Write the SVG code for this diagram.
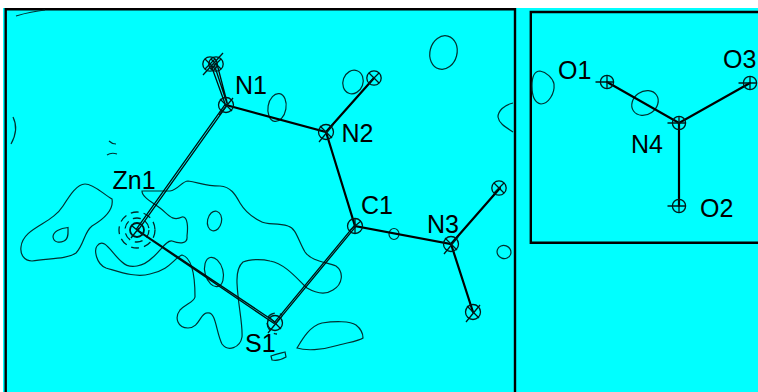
<svg xmlns="http://www.w3.org/2000/svg" width="758" height="392" viewBox="0 0 758 392">
<style>
text{font-family:"Liberation Sans",Arial,sans-serif;font-size:25px;fill:#000}
.frame{fill:none;stroke:#000;stroke-width:2.4}
.c{fill:none;stroke:#003030;stroke-width:1.2}
.b{fill:none;stroke:#000;stroke-width:2.200;stroke-linecap:round}
.d{fill:none;stroke:#001010;stroke-width:1.300}
.a{fill:none;stroke:#001a1a;stroke-width:1.300}
.da{fill:none;stroke:#002a2a;stroke-width:1.300;stroke-dasharray:8 5}
</style>
<defs>
<g id="tatom"><circle r="7.500" class="a"/><path d="M-7 10L7-7M-6-6L6 6" class="a"/></g>
<g id="xatom"><circle r="7.200" class="a"/><path d="M-5-5L5 5M-5 5L5-5" class="a"/></g>
<g id="catom"><circle r="7.500" class="a"/><path d="M0-7.500V7.500M-6 5L6-5" class="a"/></g>
<g id="patom"><circle r="6.600" class="a"/><path d="M-11.500 0H6.600M0-6.600V6.600" class="a"/></g>
</defs>
<rect x="3" y="8" width="755" height="384" fill="#00ffff"/>
<g id="frames">
<path class="frame" d="M5.700 392V9.200H515V392"/>
<path class="frame" d="M758 12H530.800V242.800H758"/>
</g>
<g id="contours">
<path class="c" d="M85 184C94 184 103 194 112 199C114 210 104 219 92 226C84 232 84 245 76 253C66 260 46 258 32 261C24 261 20 254 21 247C22 236 32 230 42 224C50 219 58 214 63 206C70 195 77 184 85 184Z"/>
<path class="c" d="M68 227.500C60 228 53 232 53 237C54 243 60 243 64 241C69 239 68 232 68 227.500Z"/>
<path class="c" d="M142 191H170C178 190 182 181 188 181C198 182 204 186 220 186C232 187 236 196 240 203C246 213 254 218 260 221C268 226 276 222 288 226C296 228 298 240 305 252C312 262 328 262 336 266C344 272 343 284 333 290C324 296 314 292 307 288C298 280 286 264 270 261C262 259 250 259 243 262C236 268 237 278 237 283C238 305 243 325 242 337C240 348 228 352 222 344C216 332 216 312 208 313C200 312 200 328 188 328C178 328 174 318 180 310C186 304 194 302 195 297C195 285 194 258 182 255C174 258 170 270 150 274C136 278 120 272 106 268C96 264 94 250 97 246C104 236 112 254 122 262C130 270 144 266 152 258C160 252 166 240 172 241C180 244 188 244 187 236C188 228 188 216 182 217C172 222 168 214 160 208C152 202 142 197 142 191Z"/>
<ellipse class="c" cx="214.500" cy="221" rx="7" ry="10" transform="rotate(12 214.500 221)"/>
<ellipse class="c" cx="214" cy="272" rx="9" ry="15" transform="rotate(-15 214 272)"/>
<ellipse class="c" cx="277" cy="107.500" rx="9" ry="14" transform="rotate(10 277 107.500)"/>
<ellipse class="c" cx="353" cy="82" rx="10" ry="12" transform="rotate(20 353 82)"/>
<ellipse class="c" cx="443.500" cy="52.500" rx="13.500" ry="17" transform="rotate(15 443.500 52.500)"/>
<path class="c" d="M513 103C504 105 498 111 498 117C499 124 507 128 513 132"/>
<ellipse class="c" cx="394" cy="234" rx="5" ry="5.500"/>
<ellipse class="c" cx="504" cy="252" rx="7" ry="6.500" transform="rotate(20 504 252)"/>
<path class="c" d="M297 348C303 338 310 326 322 323C335 321 350 321 356 325C361 329 363 333 363 338C360 341 345 343 335 346C322 350 306 351 297 348Z"/>
<path class="c" d="M271 356C276 354 281 353 285 352L286 357C281 360 276 361 272 360Z"/>
<path class="c" d="M532 86C532 76 535 71 540 71C546 72 553 78 554 84C555 94 548 104 541 104C535 103 532 96 532 86Z"/>
<ellipse class="c" cx="645" cy="103" rx="14" ry="11.500" transform="rotate(-35 645 103)"/>
<path class="c" d="M16 16C26 13 35 11 45 10"/>
<path class="c" d="M13 117C17 125 16 135 11 144"/>
<path class="c" d="M109 141C111 143 113 144 116 144"/>
<path class="c" d="M107 155C110 153 114 153 117 154"/>
<circle class="da" cx="137" cy="230" r="12"/>
<circle class="da" cx="137" cy="230" r="18"/>
<path class="da" d="M267 323A10 12 0 0 0 277 334M268 317A10 10 0 0 1 282 315"/>
</g>
<g id="connectors">
<path class="b" d="M226 105L326 132L374 78M326 132L355 226L451 244L500 188M451 244L473 312"/>
<path class="d" d="M225.200 104.300L136.200 229.300M226.800 105.700L137.800 230.700"/>
<path class="d" d="M136.500 229.200L275.500 322.200M137.500 230.800L274.500 323.800"/>
<path class="d" d="M274.500 322.400L354.500 225.400M275.700 323.600L355.700 226.600"/>
<path class="d" d="M225.500 105L211 65M227.500 105L214 64M227.500 104L217 64"/>
<path class="b" d="M607 82L679 123L750 83M679 123V206"/>
</g>
<g id="Zn1"><circle cx="137" cy="230" r="7" class="a" style="stroke-width:1.800"/><path class="a" d="M131 238L139 228M131 225L143 235"/><text x="112.500" y="189">Zn1</text></g>
<g id="N1"><use href="#tatom" x="226" y="105"/><text x="235" y="94">N1</text></g>
<g id="H1a"><use href="#xatom" x="210" y="64"/></g>
<g id="H1b"><use href="#xatom" x="216" y="64"/><path class="a" d="M203 75L223 53"/></g>
<g id="N2"><use href="#tatom" x="326" y="132"/><text x="341.500" y="142">N2</text></g>
<g id="H2"><use href="#xatom" x="374" y="78"/></g>
<g id="C1"><use href="#catom" x="355" y="226"/><text x="361" y="214">C1</text></g>
<g id="N3"><use href="#tatom" x="451" y="244"/><text x="427" y="233">N3</text></g>
<g id="H3a"><use href="#xatom" x="499" y="188"/></g>
<g id="H3b"><use href="#tatom" x="473" y="312"/></g>
<g id="S1"><use href="#tatom" x="275" y="323"/><text x="245" y="352">S1</text></g>
<g id="N4"><use href="#patom" x="679" y="123"/><text x="631" y="153">N4</text></g>
<g id="O1"><use href="#patom" x="607" y="82"/><text x="558" y="79">O1</text></g>
<g id="O2"><use href="#patom" x="679" y="206"/><text x="700" y="217">O2</text></g>
<g id="O3"><use href="#patom" x="750" y="83"/><text x="723" y="68">O3</text></g>
</svg>
